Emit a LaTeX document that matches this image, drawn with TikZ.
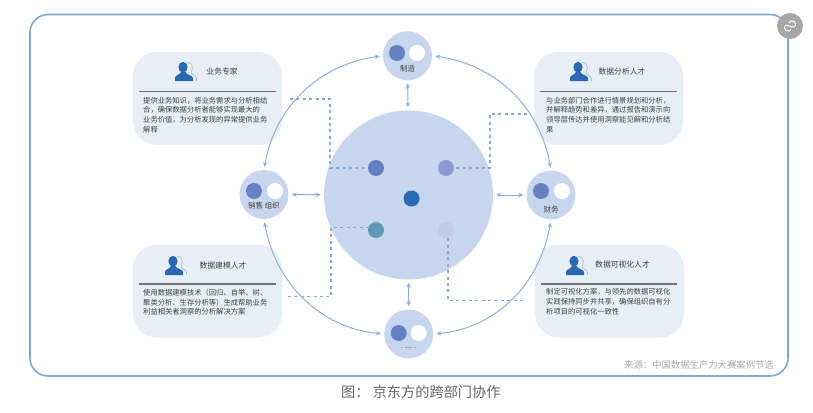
\documentclass[tikz,border=0pt]{standalone}
\usepackage{fontspec}
\setmainfont{Noto Sans CJK SC}
\usetikzlibrary{arrows.meta}
\definecolor{framec}{HTML}{7FA9D0}
\definecolor{ringc}{HTML}{8FB0DC}
\definecolor{mainc}{HTML}{C7D6EC}
\definecolor{panelc}{HTML}{E8EEF6}
\definecolor{dashc}{HTML}{86A8D2}
\definecolor{dotA}{HTML}{6381C3}
\definecolor{dotB}{HTML}{8A9ACF}
\definecolor{dotC}{HTML}{2A6AB5}
\definecolor{dotD}{HTML}{5F98B5}
\definecolor{dotE}{HTML}{C1CAE6}
\definecolor{iconc}{HTML}{2A68B2}
\definecolor{textc}{HTML}{404040}
\tikzset{
  panel/.style={fill=panelc,rounded corners=24pt,minimum width=149pt,minimum height=93pt,inner sep=0pt},
  sat/.style={circle,fill=mainc,minimum size=49pt,inner sep=0pt},
  dot/.style={circle,minimum size=16pt,inner sep=0pt},
  ringarrow/.style={draw=ringc,line width=1pt,{Stealth[length=5pt,width=4.5pt]}-{Stealth[length=5pt,width=4.5pt]},shorten >=3pt,shorten <=3pt},
  dashline/.style={draw=dashc,line width=1.1pt,dash pattern=on 3pt off 3.4pt},
  titletext/.style={text=textc,font=\fontsize{7.8}{9}\selectfont,inner sep=0pt},
  bodytext/.style={text=textc,font=\fontsize{7.3}{9.6}\selectfont,inner sep=0pt,align=left,anchor=north west},
  satlabel/.style={text=textc,font=\fontsize{7.5}{9}\selectfont,inner sep=0pt},
  rule/.style={draw=black!55,line width=1.2pt},
  pics/person/.style={code={
    \draw[dashc!70,line width=0.8pt] (12,0.8) .. controls (16,0) and (18,3) .. (17,8) .. controls (16.5,10) and (16,11) .. (17,12) .. controls (20,13.5) and (22,15) .. (21.5,19);
    \fill[iconc] (8,5.2) ellipse (4.6pt and 5.4pt);
    \fill[iconc] (0,19) -- (0,16) .. controls (0,13) and (5,13) .. (6,10) -- (10.5,10) .. controls (11,13) and (18,13) .. (18,16) -- (18,19) -- cycle;
  }}
}
\begin{document}
\begin{tikzpicture}[x=1pt,y=-1pt]
\useasboundingbox (0,0) rectangle (813,412);
\fill[white] (0,0) rectangle (813,412);
% frame
\draw[framec,line width=1.6pt,rounded corners=18pt] (30,14.5) rectangle (788,376);
\node[circle,fill=black!35,minimum size=26pt,inner sep=0pt] (share) at (790,26) {};
\draw[white,line width=1pt,line cap=round] (786,30.5) .. controls (783,28) and (785,24) .. (788,25.5) -- (792,27) .. controls (795,28) and (797,24) .. (794,21.5) .. controls (792,20) and (789,21) .. (789,23);
\draw[white,line width=1pt,line cap=round] (786,30.5) .. controls (788,32) and (791,31) .. (791,29);
% panels
\node[panel] (tl) at (207.5,98.5) {};
\node[panel] (tr) at (608.5,98.5) {};
\node[panel] (bl) at (207.5,291) {};
\node[panel] (br) at (609.5,291) {};
% main circle and satellites
\node[circle,fill=mainc,minimum size=169pt,inner sep=0pt] (main) at (408.5,195) {};
\node[sat] (top) at (407.5,55.7) {};
\node[sat] (left) at (264,194.5) {};
\node[sat] (right) at (551,195) {};
\node[sat] (bottom) at (408.7,334) {};
% ring arrows
\draw[ringarrow] (top.west) .. controls +(-64,9) and +(11,-63) .. (left.north);
\draw[ringarrow] (top.east) .. controls +(64,9) and +(-11,-63) .. (right.north);
\draw[ringarrow] (left.south) .. controls +(11,63) and +(-64,-6) .. (bottom.west);
\draw[ringarrow] (right.south) .. controls +(-11,63) and +(64,-6) .. (bottom.east);
% short arrows
\draw[ringarrow] (top) -- (main);
\draw[ringarrow] (bottom) -- (main);
\draw[ringarrow] (left) -- (main);
\draw[ringarrow] (right) -- (main);
% dots on satellites
\node[dot,fill=dotA] (topa) at (397,53) {};
\node[dot,fill=white] (topb) at (417,53) {};
\node[dot,fill=dotA] (lefta) at (254,191) {};
\node[dot,fill=white] (leftb) at (275,191) {};
\node[dot,fill=dotA] (righta) at (541,191) {};
\node[dot,fill=white] (rightb) at (562,191) {};
\node[dot,fill=dotA] (bota) at (398.7,333) {};
\node[dot,fill=white] (botb) at (418.7,333) {};
\node[satlabel] (toplab) at (407.5,69) {制造};
\node[satlabel] (leftlab) at (264,206) {销售 组织};
\node[satlabel] (rightlab) at (551,210) {财务};
\node[text=black!60,font=\fontsize{6.5}{7}\selectfont,inner sep=0pt] (botlab) at (408.7,348) {- ---- -};
% inner dots
\node[dot,fill=dotA] (d1) at (376,168) {};
\node[dot,fill=dotB] (d2) at (446,168) {};
\node[dot,fill=dotC] (d3) at (411.5,198.5) {};
\node[dot,fill=dotD] (d4) at (376,230) {};
\node[dot,fill=dotE] (d5) at (446,230) {};
% dashed connectors
\coordinate (ea) at (290,99);
\coordinate (eb) at (527,114);
\coordinate (ec) at (288,296.7);
\coordinate (ed) at (526,300.7);
\coordinate (ef) at (448,300.7);
\draw[dashline] (ea) -- (330,99) -- (330,168) -- (d1.west);
\draw[dashline] (eb) -- (490,114) -- (490,168) -- (d2.east);
\draw[dashline] (ec) -- (331,296.7) -- (331,227.5) -- (d4.west |- 331,227.5);
\draw[dashline] (d5.south -| ef) -- (ef) -- (ed);
% panel contents
\pic at (175,62) {person};
\pic at (570,62) {person};
\pic at (165,256) {person};
\pic at (566,256) {person};
\node[titletext] (t1) at (222,72) {业务专家};
\node[titletext] (t2) at (622,72) {数据分析人才};
\node[titletext] (t3) at (223,266) {数据建模人才};
\node[titletext] (t4) at (622.5,265) {数据可视化人才};
\draw[rule] (139,91.7) -- (275.5,91.7);
\draw[rule] (540,91.7) -- (677,91.7);
\draw[rule] (139,284) -- (276,284);
\draw[rule] (541,284) -- (677,284);
\node[bodytext] (b1) at (143,97) {提供业务知识，将业务需求与分析相结\\合，确保数据分析者能够实现最大的\\业务价值，为分析发现的异常提供业务\\解释};
\node[bodytext] (b2) at (546,97) {与业务部门合作进行情景规划和分析，\\并解释趋势和差异，通过报告和演示向\\领导层传达并使用洞察能见解和分析结\\果};
\node[bodytext] (b3) at (143,289.3) {使用数据建模技术（回归、自举、树、\\聚类分析、生存分析等）生成帮助业务\\利益相关者洞察的分析解决方案};
\node[bodytext] (b4) at (546,288.5) {制定可视化方案，与领先的数据可视化\\实践保持同步并共享，确保组织自有分\\析项目的可视化一致性};
% source and caption
\node[text=black!35,font=\fontsize{9.35}{11}\selectfont,anchor=east,inner sep=0pt] (src) at (774,365) {来源：中国数据生产力大赛案例节选};
\node[text=black!60,font=\fontsize{14.2}{16}\selectfont,anchor=west,inner sep=0pt] (cap) at (341,392.5) {图： 京东方的跨部门协作};
\end{tikzpicture}
\end{document}
